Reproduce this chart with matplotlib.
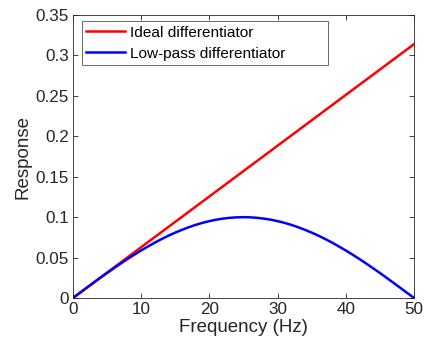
import matplotlib
matplotlib.use('Agg')
import matplotlib.pyplot as plt

plt.rcParams['font.family'] = ['Liberation Sans', 'DejaVu Sans']

# ideal differentiator: straight line from origin
freq_ideal = [0, 50]
resp_ideal = [0.0, 0.314]

# low-pass differentiator, read at 1 Hz steps
freq_lp = list(range(0, 51))
resp_lp = [0.000, 0.0063, 0.0125, 0.0187, 0.0249, 0.0309, 0.0368, 0.0426, 0.0482, 0.0536,
           0.0588, 0.0637, 0.0685, 0.0729, 0.0771, 0.0809, 0.0844, 0.0876, 0.0905, 0.0930,
           0.0951, 0.0969, 0.0982, 0.0992, 0.0998, 0.1000, 0.0998, 0.0992, 0.0982, 0.0969,
           0.0951, 0.0930, 0.0905, 0.0876, 0.0844, 0.0809, 0.0771, 0.0729, 0.0685, 0.0637,
           0.0588, 0.0536, 0.0482, 0.0426, 0.0368, 0.0309, 0.0249, 0.0187, 0.0125, 0.0063,
           0.000]

fig = plt.figure(figsize=(4.26, 3.49), dpi=100)
ax = fig.add_axes([0.171, 0.146, 0.801, 0.811])
ax.plot(freq_ideal, resp_ideal, color='#ff0000', lw=1.8, label='Ideal differentiator')
ax.plot(freq_lp, resp_lp, color='#0000ff', lw=1.8, label='Low-pass differentiator')

ax.set_xlim(0, 50)
ax.set_ylim(0, 0.35)
ax.set_xticks([0, 10, 20, 30, 40, 50])
ax.set_yticks([0, 0.05, 0.1, 0.15, 0.2, 0.25, 0.3, 0.35])
ax.set_yticklabels(['0', '0.05', '0.1', '0.15', '0.2', '0.25', '0.3', '0.35'])
ax.tick_params(direction='in', top=True, right=True, length=3.5, width=0.6,
               colors='#262626', labelsize=12.3, labelcolor='#262626', pad=3)
for s in ax.spines.values():
    s.set_color('#262626')
    s.set_linewidth(0.6)
ax.set_xlabel('Frequency (Hz)', fontsize=13.5, color='#262626', labelpad=1)
ax.set_ylabel('Response', fontsize=13.5, color='#262626', labelpad=3)

# MATLAB-style legend box with wide right padding
leg = ax.legend(loc='upper left', bbox_to_anchor=(0.026, 0.816, 0.721, 0.163),
                mode='expand', borderaxespad=0, fontsize=11.1, frameon=True,
                fancybox=False, edgecolor='#262626', borderpad=0.3,
                handlelength=2.5, handletextpad=0.3, labelspacing=0.45)
leg.get_frame().set_linewidth(0.6)

fig.savefig('out.png', dpi=100)
